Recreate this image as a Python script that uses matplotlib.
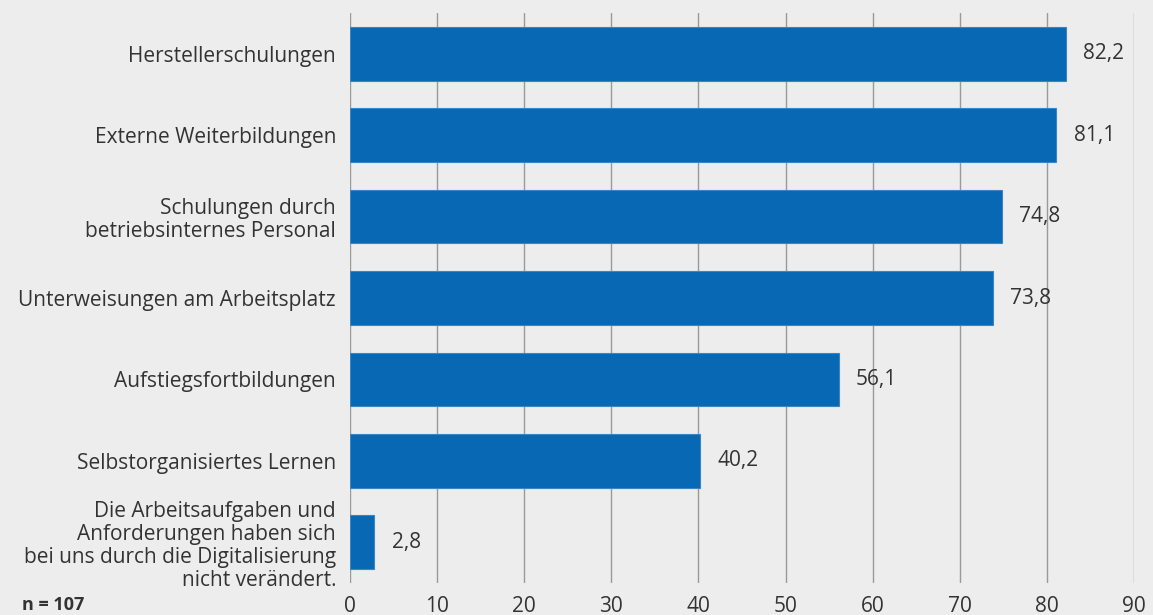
import numpy as np
import matplotlib.pyplot as plt

# ── Data ──────────────────────────────────────────────────────────────────────
categories = [
    "Herstellerschulungen",
    "Externe Weiterbildungen",
    "Schulungen durch\nbetriebsinternes Personal",
    "Unterweisungen am Arbeitsplatz",
    "Aufstiegsfortbildungen",
    "Selbstorganisiertes Lernen",
    "Die Arbeitsaufgaben und\nAnforderungen haben sich\nbei uns durch die Digitalisierung\nnicht verändert.",
]
values = [82.2, 81.1, 74.8, 73.8, 56.1, 40.2, 2.8]
xticks = [0, 10, 20, 30, 40, 50, 60, 70, 80, 90]
note = "n = 107"

# ── Style ─────────────────────────────────────────────────────────────────────
bg = "#ededed"
bar_color = "#0868b3"
text_color = "#333333"
fs = 15
plt.rcParams.update({
    "font.family": ["Open Sans", "DejaVu Sans"],
    "font.size": fs,
    "text.color": text_color,
})

fig = plt.figure(figsize=(11.53, 6.15), dpi=100, facecolor=bg)
ax = fig.add_axes([350 / 1153, 32 / 615, 784 / 1153, 570 / 615])
ax.set_facecolor(bg)

y = np.arange(len(categories))
ax.barh(y, values, height=0.66, color=bar_color,
        edgecolor="#3a86c4", linewidth=0.8, zorder=3)

for yi, v in zip(y, values):
    ax.text(v + 2.0, yi, f"{v:.1f}".replace(".", ","), va="center", ha="left",
            fontsize=fs, color=text_color)

ax.set_xlim(0, 90)
ax.set_ylim(6.5, -0.5)
ax.set_xticks(xticks)
ax.set_xticklabels([str(t) for t in xticks])
ax.set_yticks(y)
ax.set_yticklabels(categories, linespacing=1.12)
ax.tick_params(axis="both", length=0, colors=text_color, labelsize=fs)
ax.tick_params(axis="y", pad=10)
ax.tick_params(axis="x", pad=9)
for lbl in ax.get_yticklabels():
    lbl.set_multialignment("right")

ax.grid(axis="x", color="#9a9a9a", linewidth=1.0, zorder=0)
ax.grid(axis="y", visible=False)
for s in ax.spines.values():
    s.set_visible(False)

fig.text(22 / 1153, 1 - 605 / 615, note, fontsize=13, fontweight="bold",
         va="center", ha="left", color=text_color)

fig.savefig("out.png", dpi=100, facecolor=bg)
